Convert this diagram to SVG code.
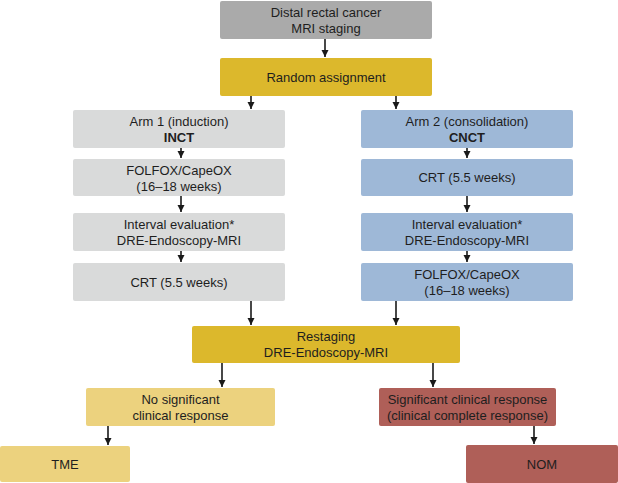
<svg xmlns="http://www.w3.org/2000/svg" width="618" height="483" viewBox="0 0 618 483">
<style>
text{font-family:"Liberation Sans",Arial,sans-serif;font-size:13px;fill:#1e1e1e;text-anchor:middle}
.b{font-weight:bold}
.gray{fill:#aaaaaa}.gold{fill:#dcb82c}.lg{fill:#d9dada}.blue{fill:#9eb8d7}.ly{fill:#ecd27e}.red{fill:#af5f58}
.c line{stroke:#1a1a1a;stroke-width:1.6;marker-end:url(#ah)}
</style>
<defs>
<marker id="ah" markerWidth="8" markerHeight="8" refX="7" refY="4" orient="auto" markerUnits="userSpaceOnUse">
<path d="M0,0.5 L7,4 L0,7.5 z" fill="#1a1a1a"/>
</marker>
</defs>
<rect width="618" height="483" fill="#ffffff"/>
<g id="n-top"><rect class="gray" x="220" y="1" width="212" height="38" rx="2"/><text x="326" y="17">Distal rectal cancer</text><text x="326" y="33">MRI staging</text></g>
<g id="n-random"><rect class="gold" x="220" y="58" width="212" height="38" rx="2"/><text x="326" y="81.5">Random assignment</text></g>
<g id="n-arm1"><rect class="lg" x="73" y="110" width="212" height="38" rx="2"/><text x="179" y="126">Arm 1 (induction)</text><text class="b" x="179" y="142">INCT</text></g>
<g id="n-arm2"><rect class="blue" x="361" y="110" width="212" height="38" rx="2"/><text x="467" y="126">Arm 2 (consolidation)</text><text class="b" x="467" y="142">CNCT</text></g>
<g id="n-l2"><rect class="lg" x="73" y="159" width="212" height="37" rx="2"/><text x="179" y="175">FOLFOX/CapeOX</text><text x="179" y="191">(16–18 weeks)</text></g>
<g id="n-r2"><rect class="blue" x="361" y="159" width="212" height="37" rx="2"/><text x="467" y="182">CRT (5.5 weeks)</text></g>
<g id="n-l3"><rect class="lg" x="73" y="213" width="212" height="38" rx="2"/><text x="179" y="229">Interval evaluation*</text><text x="179" y="245">DRE-Endoscopy-MRI</text></g>
<g id="n-r3"><rect class="blue" x="361" y="213" width="212" height="38" rx="2"/><text x="467" y="229">Interval evaluation*</text><text x="467" y="245">DRE-Endoscopy-MRI</text></g>
<g id="n-l4"><rect class="lg" x="73" y="263" width="212" height="38" rx="2"/><text x="179" y="286.5">CRT (5.5 weeks)</text></g>
<g id="n-r4"><rect class="blue" x="361" y="263" width="212" height="38" rx="2"/><text x="467" y="279">FOLFOX/CapeOX</text><text x="467" y="295">(16–18 weeks)</text></g>
<g id="n-restaging"><rect class="gold" x="192" y="326" width="268" height="37" rx="2"/><text x="326" y="341">Restaging</text><text x="326" y="357">DRE-Endoscopy-MRI</text></g>
<g id="n-nosig"><rect class="ly" x="86" y="388" width="189" height="38" rx="2"/><text x="180.5" y="404">No significant</text><text x="180.5" y="420">clinical response</text></g>
<g id="n-sig"><rect class="red" x="379" y="388" width="177" height="38" rx="2"/><text x="467.5" y="404">Significant clinical response</text><text x="467.5" y="420">(clinical complete response)</text></g>
<g id="n-tme"><rect class="ly" x="0" y="446" width="130" height="36" rx="2"/><text x="65" y="468.5">TME</text></g>
<g id="n-nom"><rect class="red" x="466" y="445" width="152" height="38" rx="2"/><text x="542" y="468.5">NOM</text></g>
<g class="c" id="connectors">
<line x1="325" y1="39" x2="325" y2="57"/>
<line x1="251" y1="96" x2="251" y2="109"/>
<line x1="396" y1="96" x2="396" y2="109"/>
<line x1="181" y1="148" x2="181" y2="158"/>
<line x1="467" y1="148" x2="467" y2="158"/>
<line x1="181" y1="196" x2="181" y2="212"/>
<line x1="467" y1="196" x2="467" y2="212"/>
<line x1="181" y1="251" x2="181" y2="262"/>
<line x1="467" y1="251" x2="467" y2="262"/>
<line x1="251" y1="301" x2="251" y2="325"/>
<line x1="396" y1="301" x2="396" y2="325"/>
<line x1="222" y1="363" x2="222" y2="387"/>
<line x1="433" y1="363" x2="433" y2="387"/>
<line x1="108" y1="426" x2="108" y2="445"/>
<line x1="534" y1="426" x2="534" y2="444"/>
</g>
</svg>
